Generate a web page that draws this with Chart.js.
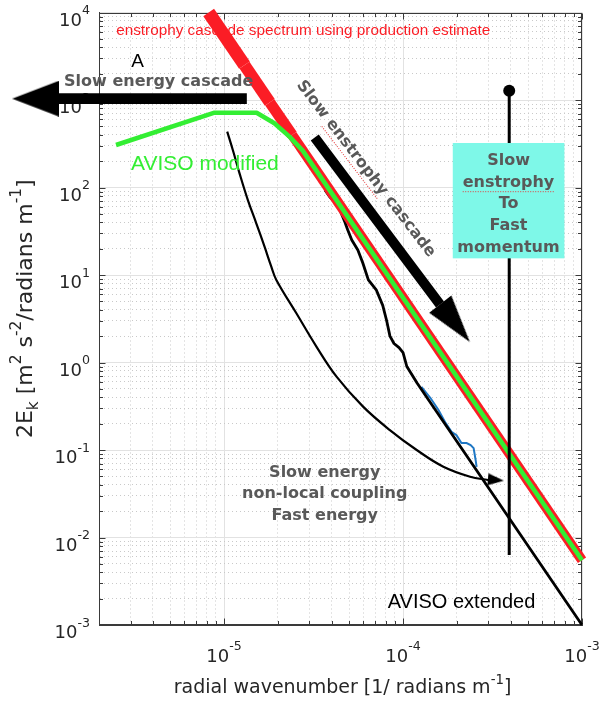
<!DOCTYPE html>
<html>
<head>
<meta charset="utf-8">
<script src="https://cdn.jsdelivr.net/npm/chart.js"></script>
<style>
  html, body { margin: 0; padding: 0; background: #fff; }
  #spectrum { display: block; }
</style>
</head>
<body>
<canvas id="spectrum" width="601" height="701"></canvas>
<script>
// axis limits and decade tick labels
const xLimits = [2e-6, 1e-3];
const yLimits = [1e-3, 1e4];
const xDecades = [-5, -4, -3];
const yDecades = [-3, -2, -1, 0, 1, 2, 3, 4];

// enstrophy cascade spectrum using production estimate (red)
const redK = [8.2e-6, 1.3e-5, 1.8e-5, 2.4e-5, 1e-3];
const redE = [1e4, 2500, 940, 400, 5.5e-3];

// AVISO modified (green)
const greenK = [2.49e-6, 8.84e-6, 1.52e-5, 1.91e-5, 2.32e-5, 2.75e-5, 1e-3];
const greenE = [306, 716, 716, 542, 381, 264, 5.5e-3];

// AVISO extended (black)
const avisoK = [3.66e-5, 3.9e-5, 4.32e-5, 4.73e-5, 4.91e-5, 5.17e-5, 5.59e-5, 5.96e-5, 6.4e-5, 7.1e-5,
                7.7e-5, 8.1e-5, 8.45e-5, 8.9e-5, 9.5e-5, 1.0e-4, 1.05e-4, 1.2e-4, 1e-3];
const avisoE = [93.6, 77.9, 63.1, 40.4, 32.7, 25.1, 19.3, 13.7, 8.8, 6.7,
                4.5, 3.0, 2.0, 1.65, 1.48, 1.3, 0.9, 0.579, 1e-3];

// short blue piece
const blueK = [1.267e-4, 1.423e-4, 1.578e-4, 1.728e-4, 1.867e-4, 1.99e-4, 2.12e-4, 2.265e-4, 2.385e-4, 2.48e-4, 2.544e-4, 2.577e-4];
const blueE = [0.525, 0.393, 0.286, 0.204, 0.161, 0.148, 0.120, 0.120, 0.114, 0.105, 0.0769, 0.064];

// non-local coupling curve (thin black arrow)
const curveK = [1.041e-5, 1.119e-5, 1.22e-5, 1.358e-5, 1.513e-5, 1.683e-5, 1.836e-5, 1.959e-5, 2.535e-5,
                3.28e-5, 4.25e-5, 5.98e-5, 8.44e-5, 1.192e-4, 1.68e-4, 2.37e-4, 2.99e-4];
const curveE = [434.7, 268.3, 145.2, 71.9, 39.0, 21.06, 12.45, 8.77, 3.65,
                1.52, 0.689, 0.313, 0.169, 0.1, 0.0644, 0.0495, 0.0454];
const curveHead = [3.303e-4, 0.0454];

// slow energy cascade arrow (horizontal)
const energyShaftK = [1.1e-6, 1.34e-5];
const energyShaftE = [1035, 1035];
const energyHead = [8.86e-7, 1035];

// slow enstrophy cascade arrow (diagonal)
const enstrophyShaftK = [3.21e-5, 1.609e-4];
const enstrophyShaftE = [372.8, 4.6];
const enstrophyHead = [1.953e-4, 2.82];

// vertical marker line
const markerK = [3.92e-4, 3.92e-4];
const markerE = [1277, 6.31e-3];

// text box corners [k0, k1, e0, e1]
const boxCorners = [1.896e-4, 7.97e-4, 15.5, 322.5];

const GRAY = '#595959';
const RED = '#fb1d25';
const GREEN = '#33ee33';
const AXIS = '#3a3a3a';
const SANS = '"Liberation Sans", Arial, sans-serif';
const DEJA = '"DejaVu Sans", sans-serif';

const pts = (ks, es) => ks.map((k, i) => ({x: k, y: es[i]}));
const isDecade = v => Math.abs(Math.log10(v) - Math.round(Math.log10(v))) < 1e-6;

function gridValues(lo, hi) {
    const out = [];
    for (let e = Math.floor(Math.log10(lo)); e <= Math.ceil(Math.log10(hi)); e++) {
        for (let m = 1; m <= 9; m++) {
            const v = m * Math.pow(10, e);
            if (v >= lo * 0.999 && v <= hi * 1.001) out.push(v);
        }
    }
    return out;
}

function headShape(len, base) {
    const c = document.createElement('canvas');
    c.width = len;
    c.height = base;
    const g = c.getContext('2d');
    g.fillStyle = '#000';
    g.beginPath();
    g.moveTo(0, 0);
    g.lineTo(len, base / 2);
    g.lineTo(0, base);
    g.closePath();
    g.fill();
    return c;
}

// text with super/subscripts: parts = [[text, 0|1|-1], ...]
function richText(ctx, parts, x, y, size, family, align, raise) {
    const small = size * 0.7;
    const pieces = parts.map(([t, kind]) => {
        const s = kind ? small : size;
        ctx.font = s + 'px ' + family;
        return {t, kind, s, w: ctx.measureText(t).width};
    });
    const total = pieces.reduce((a, p) => a + p.w, 0);
    let cx = align === 'center' ? x - total / 2 : align === 'right' ? x - total : x;
    ctx.textAlign = 'left';
    ctx.textBaseline = 'alphabetic';
    pieces.forEach(p => {
        ctx.font = p.s + 'px ' + family;
        const dy = p.kind === 1 ? -size * raise : p.kind === -1 ? size * 0.25 : 0;
        ctx.fillText(p.t, cx, y + dy);
        cx += p.w;
    });
}

function spellLine(ctx, x0, x1, y) {
    ctx.save();
    ctx.strokeStyle = '#e23a3a';
    ctx.lineWidth = 1;
    ctx.setLineDash([1, 1.5]);
    ctx.beginPath();
    ctx.moveTo(x0, y);
    ctx.lineTo(x1, y);
    ctx.stroke();
    ctx.restore();
}

const sketchNotes = {
    id: 'sketchNotes',
    beforeDatasetsDraw(chart) {
        const {ctx, chartArea: a, scales: {x, y}} = chart;
        ctx.save();

        // box frame and inward tick marks
        ctx.strokeStyle = AXIS;
        ctx.lineWidth = 1;
        const L = Math.round(a.left) + 0.5, R = Math.round(a.right) - 0.5;
        const T = Math.round(a.top) + 0.5, B = Math.round(a.bottom) - 0.5;
        ctx.strokeRect(L, T, R - L, B - T);
        ctx.beginPath();
        x.ticks.forEach(t => {
            const p = Math.round(x.getPixelForValue(t.value)) + 0.5;
            const len = isDecade(t.value) ? 6 : 3.5;
            ctx.moveTo(p, B); ctx.lineTo(p, B - len);
            ctx.moveTo(p, T); ctx.lineTo(p, T + len);
        });
        y.ticks.forEach(t => {
            const p = Math.round(y.getPixelForValue(t.value)) + 0.5;
            const len = isDecade(t.value) ? 6 : 3.5;
            ctx.moveTo(L, p); ctx.lineTo(L + len, p);
            ctx.moveTo(R, p); ctx.lineTo(R - len, p);
        });
        ctx.stroke();

        // decade labels
        ctx.fillStyle = '#262626';
        yDecades.forEach(e => {
            const p = y.getPixelForValue(Math.pow(10, e));
            richText(ctx, [['10', 0], [String(e), 1]], a.left - 9, p + 13.4, 18, DEJA, 'right', 0.65);
        });
        xDecades.forEach(e => {
            const p = x.getPixelForValue(Math.pow(10, e));
            richText(ctx, [['10', 0], [String(e), 1]], p, a.bottom + 36.7, 18, DEJA, 'center', 0.65);
        });

        // axis titles
        richText(ctx, [['radial wavenumber [1/ radians m', 0], ['-1', 1], [']', 0]],
            (a.left + a.right) / 2 + 2, a.bottom + 68, 19, DEJA, 'center', 0.5);
        ctx.save();
        ctx.translate(32, (a.top + a.bottom) / 2 - 10);
        ctx.rotate(-Math.PI / 2);
        richText(ctx, [['2E', 0], ['k', -1], [' [m', 0], ['2', 1], [' s', 0], ['-2', 1],
            ['/radians m', 0], ['-1', 1], [']', 0]], 0, 0, 22, DEJA, 'center', 0.5);
        ctx.restore();

        // red caption sits under the red line
        ctx.fillStyle = RED;
        ctx.font = '15.3px ' + SANS;
        ctx.textAlign = 'left';
        ctx.textBaseline = 'alphabetic';
        ctx.fillText('enstrophy cascade spectrum using production estimate',
            x.getPixelForValue(2.495e-6), y.getPixelForValue(5530));
        ctx.restore();
    },
    afterDatasetsDraw(chart) {
        const {ctx, scales: {x, y}} = chart;
        ctx.save();

        // cyan box
        const bx0 = x.getPixelForValue(boxCorners[0]), bx1 = x.getPixelForValue(boxCorners[1]);
        const by0 = y.getPixelForValue(boxCorners[3]), by1 = y.getPixelForValue(boxCorners[2]);
        ctx.fillStyle = '#7ef8e8';
        ctx.fillRect(bx0, by0, bx1 - bx0, by1 - by0);

        const bold = 'bold 16px ' + DEJA;
        ctx.font = bold;
        ctx.fillStyle = GRAY;
        ctx.textAlign = 'center';
        ctx.textBaseline = 'alphabetic';
        const boxLines = ['Slow', 'enstrophy', 'To', 'Fast', 'momentum'];
        const bcx = x.getPixelForValue(3.885e-4);
        const bTop = y.getPixelForValue(180.8);
        boxLines.forEach((s, i) => ctx.fillText(s, bcx, bTop + i * 21.7));
        const ew = ctx.measureText('enstrophy').width;
        spellLine(ctx, bcx - ew / 2, bcx + ew / 2, bTop + 21.7 + 5);

        // coupling note
        const cLines = ['Slow energy', 'non-local coupling', 'Fast energy'];
        const ccx = x.getPixelForValue(3.65e-5);
        const cTop = y.getPixelForValue(0.0495);
        cLines.forEach((s, i) => ctx.fillText(s, ccx, cTop + i * 21.65));

        // slow energy cascade label
        ctx.textAlign = 'left';
        ctx.fillText('Slow energy cascade', x.getPixelForValue(1.276e-6), y.getPixelForValue(1457));

        // rotated label along the diagonal arrow
        ctx.save();
        ctx.translate(x.getPixelForValue(6.195e-5), y.getPixelForValue(162.7));
        ctx.rotate(52.5 * Math.PI / 180);
        ctx.textAlign = 'center';
        ctx.textBaseline = 'middle';
        const full = 'Slow enstrophy cascade';
        ctx.fillText(full, 0, 0);
        const fw = ctx.measureText(full).width;
        const pre = ctx.measureText('Slow ').width;
        const word = ctx.measureText('enstrophy').width;
        spellLine(ctx, -fw / 2 + pre, -fw / 2 + pre + word, 9);
        ctx.restore();

        // plain labels
        ctx.textBaseline = 'alphabetic';
        ctx.fillStyle = '#000';
        ctx.font = '19px ' + SANS;
        ctx.textAlign = 'center';
        ctx.fillText('A', x.getPixelForValue(3.285e-6), y.getPixelForValue(2403));

        ctx.fillStyle = GREEN;
        ctx.font = '21px ' + SANS;
        ctx.textAlign = 'left';
        ctx.fillText('AVISO modified', x.getPixelForValue(3.017e-6), y.getPixelForValue(158.5));

        ctx.fillStyle = '#000';
        ctx.font = '20px ' + SANS;
        ctx.textAlign = 'right';
        ctx.fillText('AVISO extended', x.getPixelForValue(5.48e-4), y.getPixelForValue(1.552e-3));

        ctx.restore();
    }
};

const redWidths = [13, 12, 11, 10];

const datasets = [
    {   // vertical marker with dot on top
        data: pts(markerK, markerE),
        borderColor: '#000', borderWidth: 3,
        pointRadius: [6, 0], pointBackgroundColor: '#000', pointBorderWidth: 0
    },
    {   // slow energy cascade arrow head
        data: pts([energyHead[0]], [energyHead[1]]),
        showLine: false, clip: false,
        pointStyle: headShape(47, 36), pointRotation: 180, pointRadius: 80
    },
    {
        data: pts(energyShaftK, energyShaftE),
        borderColor: '#000', borderWidth: 10.7, borderCapStyle: 'butt',
        pointRadius: 0, clip: false
    },
    {   // slow enstrophy cascade arrow
        data: pts([enstrophyHead[0]], [enstrophyHead[1]]),
        showLine: false, clip: false,
        pointStyle: headShape(48, 28), pointRotation: 52, pointRadius: 40
    },
    {
        data: pts(enstrophyShaftK, enstrophyShaftE),
        borderColor: '#000', borderWidth: 10, borderCapStyle: 'butt',
        pointRadius: 0, clip: false
    },
    {   // coupling curve and its head
        data: pts([curveHead[0]], [curveHead[1]]),
        showLine: false, clip: false,
        pointStyle: headShape(16, 12), pointRotation: 5, pointRadius: 20
    },
    {
        data: pts(curveK, curveE),
        borderColor: '#000', borderWidth: 2.2, tension: 0.4,
        pointRadius: 0
    },
    {   // AVISO modified
        data: pts(greenK, greenE),
        borderColor: GREEN, borderWidth: 4.5, borderJoinStyle: 'round',
        pointRadius: 0, clip: false
    },
    {   // enstrophy spectrum
        data: pts(redK, redE),
        borderColor: RED, borderWidth: 10, borderCapStyle: 'butt',
        segment: { borderWidth: c => redWidths[c.p0DataIndex] },
        pointRadius: 0, clip: false
    },
    {   // AVISO extended
        data: pts(avisoK, avisoE),
        borderColor: '#000', borderWidth: 2.8, borderJoinStyle: 'round',
        pointRadius: 0, clip: false
    },
    {
        data: pts(blueK, blueE),
        borderColor: '#1f77c4', borderWidth: 2,
        pointRadius: 0
    }
];

new Chart(document.getElementById('spectrum'), {
    type: 'line',
    data: { datasets },
    plugins: [sketchNotes],
    options: {
        responsive: false,
        animation: false,
        events: [],
        layout: { autoPadding: false, padding: { left: 99, right: 19, top: 12.5, bottom: 76 } },
        plugins: { legend: { display: false }, tooltip: { enabled: false } },
        scales: {
            x: {
                type: 'logarithmic', min: xLimits[0], max: xLimits[1],
                afterBuildTicks: s => { s.ticks = gridValues(xLimits[0], xLimits[1]).map(v => ({value: v})); },
                ticks: { display: false },
                grid: { drawTicks: false, color: c => c.tick && isDecade(c.tick.value) ? '#e2e2e2' : '#c9c9c9' },
                border: { color: AXIS, width: 1, dash: c => (c.tick && !isDecade(c.tick.value)) ? [1, 3] : [] }
            },
            y: {
                type: 'logarithmic', min: yLimits[0], max: yLimits[1],
                afterBuildTicks: s => { s.ticks = gridValues(yLimits[0], yLimits[1]).map(v => ({value: v})); },
                ticks: { display: false },
                grid: { drawTicks: false, color: c => c.tick && isDecade(c.tick.value) ? '#e2e2e2' : '#c9c9c9' },
                border: { color: AXIS, width: 1, dash: c => (c.tick && !isDecade(c.tick.value)) ? [1, 3] : [] }
            }
        }
    }
});
</script>
</body>
</html>
